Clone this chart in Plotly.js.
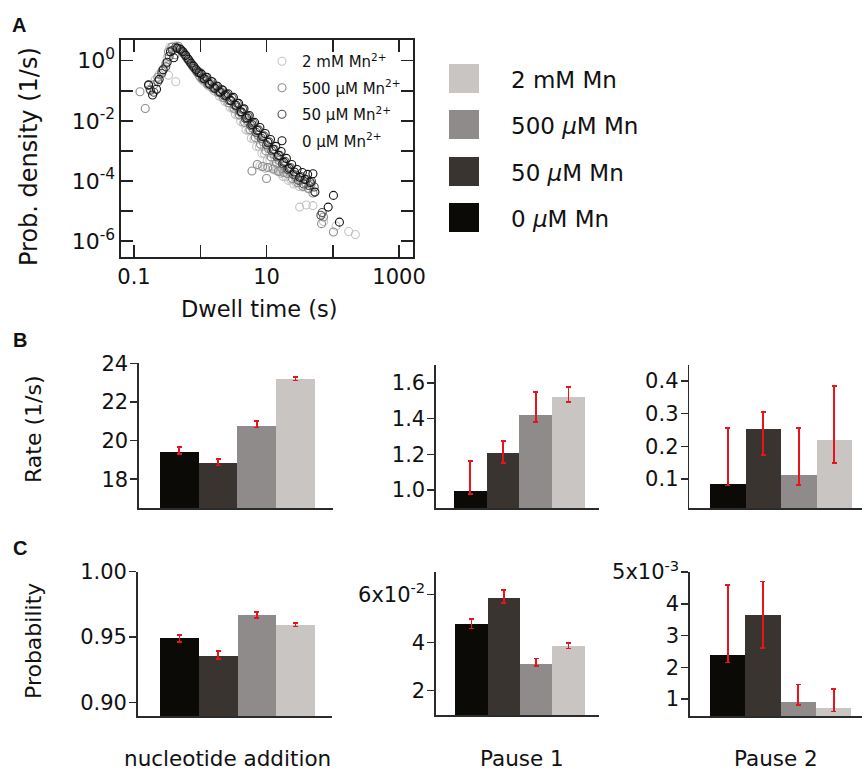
<!DOCTYPE html>
<html>
<head>
<meta charset="utf-8">
<script src="https://cdn.plot.ly/plotly-3.0.1.min.js"></script>
<style>
html,body{margin:0;padding:0;background:#fff;}
#chart{width:862px;height:772px;}
</style>
</head>
<body>
<div id="chart"></div>
<script>
// ---------- Panel A data (log10 dwell time [s], log10 probability density [1/s]) ----------
const seriesNamesA = ["2 mM Mn<sup>2+</sup>", "500 μM Mn<sup>2+</sup>", "50 μM Mn<sup>2+</sup>", "0 μM Mn<sup>2+</sup>"];
const seriesColorsA = ["#c4c4c4", "#8c8c8c", "#4e4e4e", "#141414"];

const logT_2mM = [-0.68,-0.62,-0.55,-0.50,-0.48,-0.46,-0.41,-0.36,-0.37,-0.31,-0.27,-0.23,-0.19,-0.15,-0.11,-0.07,-0.03,0.01,0.05,0.09,0.13,0.17,0.21,0.25,0.29,0.33,0.37,0.41,0.45,0.49,0.53,0.57,0.61,0.65,0.69,0.73,0.77,0.81,0.85,0.89,0.93,0.97,1.01,1.05,1.09,1.13,1.17,1.21,1.25,1.29,1.33,1.37,1.41,1.45,1.49,1.55,1.65,0.90,0.98,1.06,1.14,1.22,1.50,1.60,1.70,1.86,2.05,2.24,2.34];
const logP_2mM = [-0.64,-0.45,-0.25,0.10,-0.48,0.45,0.48,0.50,-0.70,0.42,0.30,0.18,0.05,-0.08,-0.22,-0.32,-0.45,-0.58,-0.68,-0.74,-0.85,-0.88,-1.00,-1.05,-1.18,-1.22,-1.35,-1.40,-1.55,-1.60,-1.78,-1.82,-2.02,-2.08,-2.30,-2.34,-2.58,-2.60,-2.85,-2.86,-3.08,-3.10,-3.30,-3.32,-3.50,-3.52,-3.68,-3.70,-3.85,-3.86,-3.98,-3.96,-4.10,-4.08,-4.18,-4.20,-4.25,-3.50,-3.58,-3.55,-3.65,-3.75,-4.87,-4.80,-4.82,-5.35,-5.50,-5.68,-5.78];

const logT_500uM = [-0.91,-0.83,-0.76,-0.70,-0.64,-0.58,-0.52,-0.48,-0.43,-0.38,-0.33,-0.29,-0.25,-0.21,-0.17,-0.13,-0.09,-0.05,-0.01,0.03,0.07,0.11,0.15,0.19,0.23,0.27,0.31,0.35,0.39,0.43,0.47,0.51,0.55,0.59,0.63,0.67,0.71,0.75,0.79,0.83,0.87,0.91,0.95,0.99,1.03,1.07,1.11,1.15,1.19,1.23,1.27,1.31,1.35,1.39,1.43,1.47,1.51,1.55,1.59,1.63,1.67,1.70,0.78,0.86,0.94,1.00,1.02,1.10,1.18,1.26,1.83,1.86,2.01];
const logP_500uM = [-1.03,-1.59,-0.95,-0.80,-0.55,-0.35,-0.10,0.30,0.45,0.20,0.48,0.35,0.25,0.12,0.00,-0.12,-0.25,-0.38,-0.52,-0.62,-0.60,-0.78,-0.75,-0.92,-0.88,-1.05,-1.02,-1.22,-1.18,-1.40,-1.35,-1.58,-1.55,-1.80,-1.75,-2.05,-2.00,-2.30,-2.25,-2.55,-2.48,-2.78,-2.70,-3.00,-2.92,-3.20,-3.12,-3.40,-3.32,-3.58,-3.50,-3.75,-3.68,-3.92,-3.85,-4.05,-3.98,-4.18,-4.08,-4.25,-4.12,-4.40,-3.67,-3.45,-3.52,-3.92,-3.55,-3.60,-3.68,-3.72,-5.42,-5.20,-5.70];

const logT_50uM = [-0.78,-0.75,-0.70,-0.64,-0.58,-0.52,-0.47,-0.42,-0.37,-0.32,-0.28,-0.24,-0.20,-0.16,-0.12,-0.08,-0.04,0.00,0.04,0.08,0.12,0.16,0.20,0.24,0.28,0.32,0.36,0.40,0.44,0.48,0.52,0.56,0.60,0.64,0.68,0.72,0.76,0.80,0.84,0.88,0.92,0.96,1.00,1.04,1.08,1.12,1.16,1.20,1.24,1.28,1.32,1.36,1.40,1.44,1.48,1.52,1.56,1.60,1.64,1.68,1.72,1.82,1.84];
const logP_50uM = [-0.82,-0.98,-1.05,-0.70,-0.42,-0.20,0.15,0.35,0.45,0.40,0.32,0.22,0.10,-0.02,-0.15,-0.25,-0.35,-0.40,-0.58,-0.55,-0.74,-0.68,-0.88,-0.84,-1.02,-0.95,-1.16,-1.12,-1.32,-1.25,-1.48,-1.42,-1.70,-1.62,-1.92,-1.85,-2.15,-2.08,-2.38,-2.30,-2.58,-2.50,-2.80,-2.70,-3.00,-2.95,-3.20,-3.15,-3.42,-3.35,-3.62,-3.55,-3.78,-3.80,-3.98,-3.85,-4.10,-3.95,-4.15,-4.02,-4.20,-5.14,-5.05];

const logT_0uM = [-0.78,-0.72,-0.66,-0.62,-0.56,-0.50,-0.45,-0.40,-0.35,-0.30,-0.26,-0.22,-0.18,-0.14,-0.10,-0.06,-0.02,0.02,0.06,0.10,0.14,0.18,0.22,0.26,0.30,0.34,0.38,0.42,0.46,0.50,0.54,0.58,0.62,0.66,0.70,0.74,0.78,0.82,0.86,0.90,0.94,0.98,1.02,1.06,1.10,1.14,1.18,1.22,1.26,1.30,1.34,1.38,1.42,1.46,1.50,1.54,1.58,1.62,1.66,1.70,1.73,1.93,2.01,2.10];
const logP_0uM = [-0.80,-1.14,-0.95,-0.62,-0.30,-0.05,0.30,0.10,0.42,0.38,0.30,0.18,0.05,-0.08,-0.18,-0.30,-0.40,-0.45,-0.60,-0.55,-0.78,-0.70,-0.92,-0.85,-1.05,-0.98,-1.15,-1.10,-1.32,-1.22,-1.48,-1.42,-1.70,-1.60,-1.90,-1.82,-2.12,-2.05,-2.32,-2.22,-2.52,-2.42,-2.72,-2.62,-2.95,-2.85,-3.15,-3.02,-3.38,-3.25,-3.58,-3.45,-3.70,-3.62,-3.88,-3.72,-3.95,-3.78,-4.05,-3.76,-4.37,-4.87,-4.48,-5.37];

const xTickValsA = [0.1, 10, 1000];
const xTickTextA = ["0.1", "10", "1000"];
const xMinorA = [1, 100];
const yTickValsA = [1, 1e-2, 1e-4, 1e-6];
const yTickTextA = ["10<sup>0</sup>", "10<sup>-2</sup>", "10<sup>-4</sup>", "10<sup>-6</sup>"];
const yMinorA = [1e-1, 1e-3, 1e-5];

// ---------- Bar data (order: 0 µM, 50 µM, 500 µM, 2 mM) ----------
const barLabels = ["0 <i>μ</i>M Mn", "50 <i>μ</i>M Mn", "500 <i>μ</i>M Mn", "2 mM Mn"];
const barColors = ["#0c0a07", "#3a3431", "#8f8b8a", "#c8c5c3"];
const categories = ["nucleotide addition", "Pause 1", "Pause 2"];

const rateNuc      = [19.40, 18.85, 20.76, 23.17];
const rateNucHi    = [19.67, 19.05, 21.02, 23.28];
const rateNucLo    = [19.30, 18.71, 20.68, 23.11];
const ratePause1   = [0.995, 1.209, 1.422, 1.520];
const ratePause1Hi = [1.163, 1.274, 1.548, 1.575];
const ratePause1Lo = [0.978, 1.150, 1.382, 1.492];
const ratePause2   = [0.085, 0.254, 0.113, 0.219];
const ratePause2Hi = [0.257, 0.305, 0.256, 0.385];
const ratePause2Lo = [0.080, 0.173, 0.082, 0.148];

const probNuc      = [0.9490, 0.9357, 0.9670, 0.9594];
const probNucHi    = [0.9518, 0.9393, 0.9689, 0.9609];
const probNucLo    = [0.9462, 0.9330, 0.9648, 0.9580];
const probPause1   = [0.0477, 0.0586, 0.0308, 0.0383];
const probPause1Hi = [0.0496, 0.0617, 0.0332, 0.0396];
const probPause1Lo = [0.0457, 0.0564, 0.0302, 0.0374];
const probPause2   = [0.00238, 0.00365, 0.00090, 0.00072];
const probPause2Hi = [0.00459, 0.00470, 0.00146, 0.00131];
const probPause2Lo = [0.00215, 0.00260, 0.00081, 0.00061];

const yTickValsC2 = [0.02, 0.04, 0.06];
const yTickTextC2 = ["2", "4", "6x10<sup>-2</sup>"];
const yTickValsC3 = [0.001, 0.002, 0.003, 0.004, 0.005];
const yTickTextC3 = ["1", "2", "3", "4", "5x10<sup>-3</sup>"];

// ---------- helpers ----------
const W = 862, H = 772;
const FONT = "'DejaVu Sans', Verdana, sans-serif";
const px = v => v / W;
const py = v => 1 - v / H;
const pow10 = arr => arr.map(v => Math.pow(10, v));

const traces = [];
const seriesA = [[logT_2mM, logP_2mM], [logT_500uM, logP_500uM], [logT_50uM, logP_50uM], [logT_0uM, logP_0uM]];
seriesA.forEach((s, i) => {
  traces.push({
    type: "scatter", mode: "markers",
    x: pow10(s[0]), y: pow10(s[1]),
    name: seriesNamesA[i], legendgroup: "g" + i,
    marker: {symbol: "circle-open", size: 8, color: seriesColorsA[i], line: {width: 1.1, color: seriesColorsA[i]}},
    xaxis: "x", yaxis: "y", hoverinfo: "x+y"
  });
});

function barTrace(vals, hi, lo, ax) {
  return {
    type: "bar", x: [0, 1, 2, 3], y: vals, width: 1,
    marker: {color: barColors, line: {width: 0}},
    error_y: {type: "data", symmetric: false,
      array: vals.map((v, i) => hi[i] - v),
      arrayminus: vals.map((v, i) => v - lo[i]),
      color: "#e8141c", thickness: 1.8, width: 2.5},
    xaxis: "x" + ax, yaxis: "y" + ax, showlegend: false, hoverinfo: "y"
  };
}
traces.push(barTrace(rateNuc, rateNucHi, rateNucLo, 2));
traces.push(barTrace(ratePause1, ratePause1Hi, ratePause1Lo, 3));
traces.push(barTrace(ratePause2, ratePause2Hi, ratePause2Lo, 4));
traces.push(barTrace(probNuc, probNucHi, probNucLo, 5));
traces.push(barTrace(probPause1, probPause1Hi, probPause1Lo, 6));
traces.push(barTrace(probPause2, probPause2Hi, probPause2Lo, 7));

const axLine = "#2b2b2b";
function barX(dom, range, anchor) {
  return {domain: dom, range: range, anchor: anchor, showline: true, linecolor: axLine, linewidth: 1.6,
    showticklabels: false, ticks: "", showgrid: false, zeroline: false, fixedrange: true};
}
function barY(dom, range, anchor, extra) {
  return Object.assign({domain: dom, range: range, anchor: anchor, showline: true, linecolor: axLine, linewidth: 1.6,
    ticks: "outside", ticklen: 7, tickwidth: 1.5, tickcolor: axLine, showgrid: false, zeroline: false,
    tickfont: {family: FONT, size: 21, color: "#111"}, ticklabelstandoff: -2}, extra || {});
}

const layout = {
  width: W, height: H,
  margin: {l: 0, r: 0, t: 0, b: 0},
  paper_bgcolor: "#fff", plot_bgcolor: "rgba(0,0,0,0)",
  font: {family: FONT, color: "#111"},
  bargap: 0,
  showlegend: true,
  legend: {x: px(262), y: py(45), xanchor: "left", yanchor: "top", bgcolor: "rgba(0,0,0,0)",
    font: {family: FONT, size: 15, color: "#111"}, tracegroupgap: 4, itemwidth: 30, traceorder: "grouped"},
  xaxis: {type: "log", domain: [px(121), px(413)], range: [-1.196, 3.21], anchor: "y",
    tickmode: "array", tickvals: xTickValsA, ticktext: xTickTextA, ticks: "inside", ticklen: 12, tickwidth: 1.5, tickcolor: "#222",
    minor: {tickmode: "array", tickvals: xMinorA, ticks: "inside", ticklen: 12, tickwidth: 1.5, tickcolor: "#222"},
    showline: true, linecolor: "#222", linewidth: 1.6, mirror: "allticks", showgrid: false, zeroline: false,
    tickfont: {family: FONT, size: 21, color: "#111"}},
  yaxis: {type: "log", domain: [py(257), py(40)], range: [-6.53, 0.69], anchor: "x",
    tickmode: "array", tickvals: yTickValsA, ticktext: yTickTextA, ticks: "inside", ticklen: 12, tickwidth: 1.5, tickcolor: "#222",
    minor: {tickmode: "array", tickvals: yMinorA, ticks: "inside", ticklen: 12, tickwidth: 1.5, tickcolor: "#222"},
    showline: true, linecolor: "#222", linewidth: 1.6, mirror: "allticks", showgrid: false, zeroline: false,
    tickfont: {family: FONT, size: 22, color: "#111"}, ticklabelstandoff: 0},
  xaxis2: barX([px(139), px(333)], [-1.043, 3.97], "y2"),
  yaxis2: barY([py(508), py(363.3)], [16.51, 24.0], "x2", {tickvals: [18, 20, 22, 24]}),
  xaxis3: barX([px(436), px(599)], [-1.05, 3.93], "y3"),
  yaxis3: barY([py(508), py(365)], [0.9, 1.70], "x3", {tickvals: [1.0, 1.2, 1.4, 1.6], tickformat: ".1f"}),
  xaxis4: barX([px(689.3), 1], [-1.083, 3.78], "y4"),
  yaxis4: barY([py(508), py(365)], [0.011, 0.449], "x4", {tickvals: [0.1, 0.2, 0.3, 0.4], tickformat: ".1f"}),
  xaxis5: barX([px(137.7), px(332.3)], [-1.085, 3.955], "y5"),
  yaxis5: barY([py(716), py(571.7)], [0.8895, 1.0], "x5", {tickvals: [0.90, 0.95, 1.00], tickformat: ".2f"}),
  xaxis6: barX([px(436), px(599)], [-1.097, 3.94], "y6"),
  yaxis6: barY([py(715), py(571.7)], [0.0097, 0.0694], "x6", {tickvals: yTickValsC2, ticktext: yTickTextC2}),
  xaxis7: barX([px(690), 1], [-1.063, 3.80], "y7"),
  yaxis7: barY([py(716), py(572)], [0.000465, 0.005], "x7", {tickvals: yTickValsC3, ticktext: yTickTextC3}),
  shapes: [],
  annotations: []
};

// Colour key for the bar panels (drawn from barLabels / barColors, 2 mM on top)
const keyRows = [64, 110, 157, 203];
[3, 2, 1, 0].forEach((k, r) => {
  layout.shapes.push({type: "rect", xref: "paper", yref: "paper",
    x0: px(449), x1: px(479), y0: py(keyRows[r] + 29), y1: py(keyRows[r]),
    fillcolor: barColors[k], line: {width: 0}});
  layout.annotations.push({xref: "paper", yref: "paper", x: px(509), y: py(keyRows[r] + 16),
    xanchor: "left", yanchor: "middle", showarrow: false, text: barLabels[k],
    font: {family: FONT, size: 23, color: "#111"}});
});

function ann(text, x, y, opts) {
  layout.annotations.push(Object.assign({xref: "paper", yref: "paper", x: px(x), y: py(y),
    xanchor: "center", yanchor: "middle", showarrow: false, text: text,
    font: {family: FONT, size: 21.5, color: "#111"}}, opts || {}));
}
const LBL = {family: "'Liberation Sans', Arial, sans-serif", size: 20, color: "#111"};
ann("<b>A</b>", 18.5, 25, {font: LBL});
ann("<b>B</b>", 19.5, 340, {font: LBL});
ann("<b>C</b>", 19.5, 548, {font: LBL});
ann("Prob. density (1/s)", 29, 157, {textangle: -90, font: {family: FONT, size: 24, color: "#111"}});
ann("Dwell time (s)", 259, 309, {font: {family: FONT, size: 22.5, color: "#111"}});
ann("Rate (1/s)", 33, 430, {textangle: -90, font: {family: FONT, size: 22, color: "#111"}});
ann("Probability", 33, 641, {textangle: -90, font: {family: FONT, size: 22, color: "#111"}});
ann(categories[0], 227.5, 758);
ann(categories[1], 521.8, 758);
ann(categories[2], 775.8, 758);

Plotly.newPlot("chart", traces, layout, {displayModeBar: false, staticPlot: true});
</script>
</body>
</html>
